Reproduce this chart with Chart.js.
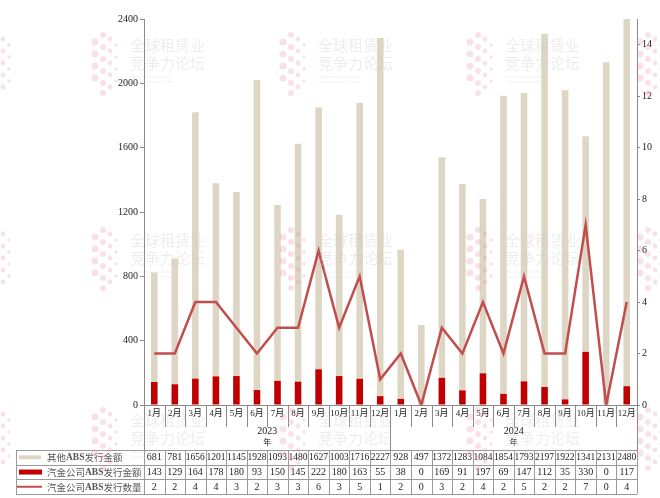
<!DOCTYPE html>
<html lang="zh">

<head>
    <meta charset="UTF-8">
    <title>汽金公司ABS发行情况</title>
    <script src="https://cdn.jsdelivr.net/npm/chart.js"></script>
    <style>
        body { margin: 0; background: #fff; }
        #box { width: 660px; height: 498px; }
    </style>
</head>

<body>
    <div id="box">
        <canvas id="absChart" width="660" height="498"></canvas>
    </div>

    <script>
        var meses = ['1月', '2月', '3月', '4月', '5月', '6月', '7月', '8月', '9月', '10月', '11月', '12月',
            '1月', '2月', '3月', '4月', '5月', '6月', '7月', '8月', '9月', '10月', '11月', '12月'];
        var anos = ['2023', '2024'];
        var outrosAbs = [681, 781, 1656, 1201, 1145, 1928, 1093, 1480, 1627, 1003, 1716, 2227,
            928, 497, 1372, 1283, 1084, 1854, 1793, 2197, 1922, 1341, 2131, 2480];
        var autoAbs = [143, 129, 164, 178, 180, 93, 150, 145, 222, 180, 163, 55,
            38, 0, 169, 91, 197, 69, 147, 112, 35, 330, 0, 117];
        var autoQtd = [2, 2, 4, 4, 3, 2, 3, 3, 6, 3, 5, 1,
            2, 0, 3, 2, 4, 2, 5, 2, 2, 7, 0, 4];
        var nomes = ['其他ABS发行金额', '汽金公司ABS发行金额', '汽金公司ABS发行数量'];
        var ticksDireita = [0, 2, 4, 6, 8, 10, 12, 14];

        var BEGE = '#ddd6c4';
        var VERMELHO = '#c00000';
        var LINHA = '#c24d4d';
        var CINZA = '#8a8a8a';
        var SERIF = '"Liberation Serif", "Noto Sans CJK SC", serif';
        var CJK = '"Noto Sans CJK SC", "Liberation Serif", sans-serif';

        Chart.defaults.font.family = SERIF;
        Chart.defaults.color = '#333';

        // texto com "ABS" em negrito
        function textoMisto(ctx, txt, x, y, tam) {
            var partes = txt.split('ABS');
            ctx.font = tam + 'px ' + CJK;
            ctx.fillText(partes[0], x, y);
            x += ctx.measureText(partes[0]).width;
            ctx.font = 'bold ' + tam + 'px ' + SERIF;
            ctx.fillText('ABS', x, y);
            x += ctx.measureText('ABS').width;
            ctx.font = tam + 'px ' + CJK;
            ctx.fillText(partes[1], x, y);
        }

        // marca d'água
        function marca(ctx, x, y, soPontos) {
            ctx.save();
            ctx.fillStyle = 'rgba(232, 150, 160, 0.28)';
            var colunas = [[0, [12, 24, 36, 48], 3.6], [8, [5, 17, 29, 41, 53, 63], 3], [15, [9, 21, 33, 45, 57], 2.4], [21, [15, 27, 39, 51], 1.7]];
            colunas.forEach(function (c) {
                c[1].forEach(function (dy) {
                    ctx.beginPath();
                    ctx.arc(x + c[0], y + dy, c[2], 0, Math.PI * 2);
                    ctx.fill();
                });
            });
            if (!soPontos) {
                ctx.fillStyle = 'rgba(200, 200, 200, 0.32)';
                ctx.font = '15px ' + CJK;
                ctx.textBaseline = 'middle';
                ctx.fillText('全球租赁业', x + 35, y + 15);
                ctx.fillText('竞争力论坛', x + 35, y + 33);
                ctx.font = '4px "Liberation Sans"';
                ctx.fillText('Global Leasing Industry', x + 35, y + 47);
                ctx.fillText('Competitiveness Forum', x + 35, y + 52);
            }
            ctx.restore();
        }

        var tabelaPlugin = {
            id: 'tabela',
            afterDraw: function (chart) {
                var ctx = chart.ctx;
                var xs = chart.scales.x;
                var area = chart.chartArea;
                var passo = xs.getPixelForValue(1) - xs.getPixelForValue(0);
                var borda = function (i) { return area.left + i * passo; };
                var topo = 450, altLinha = 14.7, esq = 16;

                ctx.save();
                ctx.strokeStyle = CINZA;
                ctx.lineWidth = 1;

                // separadores dos meses
                for (var i = 0; i <= meses.length; i++) {
                    var bx = Math.round(borda(i)) + 0.5;
                    var fim = (i === 0 || i === 12 || i === meses.length) ? topo : 427;
                    ctx.beginPath();
                    ctx.moveTo(bx, area.bottom);
                    ctx.lineTo(bx, fim);
                    ctx.stroke();
                }

                // anos
                ctx.fillStyle = '#222';
                ctx.textAlign = 'center';
                ctx.textBaseline = 'middle';
                anos.forEach(function (a, k) {
                    var cx = borda(k * 12 + 6);
                    ctx.font = '10px ' + SERIF;
                    ctx.fillText(a, cx, 431);
                    ctx.font = '8px ' + CJK;
                    ctx.fillText('年', cx, 442);
                });

                // grade da tabela
                ctx.strokeStyle = '#9a9a9a';
                for (var r = 0; r <= 3; r++) {
                    var ly = Math.round(topo + r * altLinha) + 0.5;
                    ctx.beginPath();
                    ctx.moveTo(esq, ly);
                    ctx.lineTo(area.right, ly);
                    ctx.stroke();
                }
                [esq].concat(meses.map(function (_, j) { return borda(j); }), [area.right]).forEach(function (vx) {
                    var px = Math.round(vx) + 0.5;
                    ctx.beginPath();
                    ctx.moveTo(px, topo);
                    ctx.lineTo(px, topo + 3 * altLinha);
                    ctx.stroke();
                });

                // valores
                var linhas = [outrosAbs, autoAbs, autoQtd];
                ctx.font = '10px ' + SERIF;
                ctx.fillStyle = '#222';
                linhas.forEach(function (serie, r) {
                    var cy = topo + (r + 0.5) * altLinha + 0.5;
                    serie.forEach(function (v, j) {
                        ctx.fillText(String(v), xs.getPixelForValue(j), cy, passo - 1.5);
                    });
                });

                // legenda dentro da tabela
                ctx.textAlign = 'left';
                ctx.fillStyle = BEGE;
                ctx.fillRect(19, topo + 0.5 * altLinha - 2, 22, 4);
                ctx.fillStyle = VERMELHO;
                ctx.fillRect(19, topo + 1.5 * altLinha - 2.5, 23, 5);
                ctx.strokeStyle = LINHA;
                ctx.lineWidth = 2;
                ctx.beginPath();
                ctx.moveTo(17, topo + 2.5 * altLinha);
                ctx.lineTo(42, topo + 2.5 * altLinha);
                ctx.stroke();
                ctx.fillStyle = '#555';
                nomes.forEach(function (n, r) {
                    textoMisto(ctx, n, 47, topo + (r + 0.5) * altLinha + 0.5, 9.5);
                });

                // marcas d'água
                [[45, 30], [235, 225], [415, 405]].forEach(function (p) {
                    marca(ctx, 95, p[1]);
                    marca(ctx, 283, p[1]);
                    marca(ctx, 470, p[1]);
                    marca(ctx, -12, p[1], true);
                    marca(ctx, 640, p[1], true);
                });
                ctx.restore();
            }
        };

        var ctx = document.getElementById('absChart').getContext('2d');
        var chart = new Chart(ctx, {
            type: 'bar',
            data: {
                labels: meses,
                datasets: [{
                    label: nomes[2],
                    type: 'line',
                    data: autoQtd,
                    yAxisID: 'y1',
                    borderColor: LINHA,
                    borderWidth: 2.5,
                    pointRadius: 0,
                    tension: 0,
                    order: 0
                }, {
                    label: nomes[1],
                    data: autoAbs,
                    backgroundColor: VERMELHO,
                    yAxisID: 'y',
                    barPercentage: 0.32,
                    categoryPercentage: 1,
                    order: 1
                }, {
                    label: nomes[0],
                    data: outrosAbs,
                    backgroundColor: BEGE,
                    yAxisID: 'y',
                    barPercentage: 0.32,
                    categoryPercentage: 1,
                    order: 1
                }]
            },
            options: {
                responsive: false,
                animation: false,
                layout: { padding: { top: 19, left: 0, right: 0, bottom: 0 } },
                plugins: {
                    legend: { display: false },
                    tooltip: { enabled: false }
                },
                scales: {
                    x: {
                        stacked: true,
                        grid: { display: false, drawTicks: false },
                        border: { color: CINZA },
                        ticks: { font: { size: 9, family: SERIF }, color: '#222', padding: 3, maxRotation: 0, autoSkip: false },
                        afterFit: function (s) { s.height = 93; }
                    },
                    y: {
                        stacked: true,
                        position: 'left',
                        min: 0,
                        max: 2400,
                        ticks: {
                            stepSize: 400, font: { size: 10 }, color: '#222', padding: 2,
                            callback: function (v) { return String(v); }
                        },
                        grid: { drawOnChartArea: false, tickLength: 4, color: CINZA },
                        border: { color: CINZA },
                        afterFit: function (s) { s.width = 144; }
                    },
                    y1: {
                        position: 'right',
                        min: 0,
                        max: 15,
                        ticks: { font: { size: 10 }, color: '#222', padding: 2 },
                        grid: { drawOnChartArea: false, tickLength: 3, color: CINZA },
                        border: { color: CINZA },
                        afterBuildTicks: function (s) {
                            s.ticks = ticksDireita.map(function (v) { return { value: v }; });
                        },
                        afterFit: function (s) { s.width = 23; }
                    }
                }
            },
            plugins: [tabelaPlugin]
        });
    </script>
</body>

</html>
